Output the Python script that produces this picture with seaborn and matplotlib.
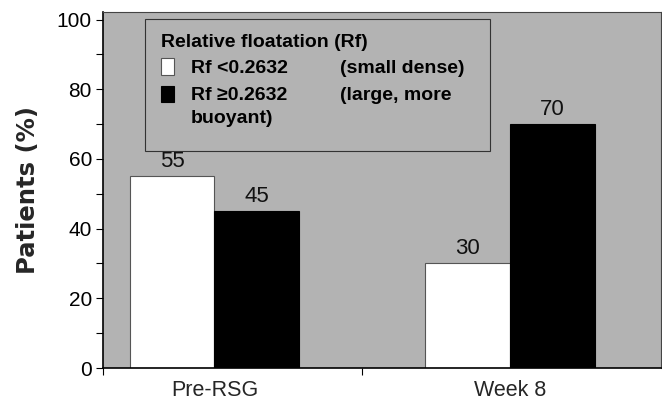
import matplotlib
matplotlib.use("Agg")
import matplotlib.pyplot as plt
from matplotlib.patches import Rectangle
import seaborn as sns
import pandas as pd

periods = ["Pre-RSG", "Week 8"]
groups = ["Rf <0.2632", "Rf \u22650.2632"]
small_dense = [55, 30]
large_buoyant = [45, 70]
y_ticks = [0, 20, 40, 60, 80, 100]

df = pd.DataFrame({
    "period": periods * 2,
    "group": [groups[0]] * 2 + [groups[1]] * 2,
    "pct": small_dense + large_buoyant,
})

sns.set_theme(style="white")
plt.rcParams["font.family"] = ["Liberation Sans", "DejaVu Sans"]

W, H = 662, 404
fig = plt.figure(figsize=(W / 100, H / 100), dpi=100)
ax = fig.add_axes([103 / W, 1 - 368 / H, (661 - 103) / W, (368 - 12) / H])
ax.set_facecolor("#b3b3b3")

sns.barplot(data=df, x="period", y="pct", hue="group", hue_order=groups,
            palette=["white", "black"], width=0.572, gap=0, legend=False,
            saturation=1, ax=ax)

edge_cols = ["#555555", "black"]
for cont, ec in zip(ax.containers, edge_cols):
    for p in cont:
        p.set_edgecolor(ec)
        p.set_linewidth(0.8)
    labels = ax.bar_label(cont, fmt="%d", padding=3, fontsize=16, color="#111111")
    for t in labels:
        t.set_zorder(6)

ax.set_xlim(-0.377, 1.511)
ax.set_ylim(0, 102.2)
ax.set_yticks(y_ticks)
ax.set_yticks([10, 30, 50, 70, 90], minor=True)
ax.tick_params(axis="y", which="both", direction="out", length=5, width=0.8,
               colors="black", labelsize=15, left=True, pad=3)
ax.set_xticks([0, 1])
ax.set_xticklabels(periods)
ax.set_xticks([-0.377, 0.5], minor=True)
ax.tick_params(axis="x", which="major", length=0, labelsize=15.5, pad=9)
ax.tick_params(axis="x", which="minor", direction="out", length=5, width=0.8,
               colors="black", bottom=True)
ax.set_xlabel("")
ax.set_ylabel("Patients (%)", fontsize=17.5, fontweight="bold",
              family="DejaVu Sans", labelpad=12)

for side in ["left", "bottom"]:
    ax.spines[side].set_color("black")
    ax.spines[side].set_linewidth(1.2)
for side in ["top", "right"]:
    ax.spines[side].set_color("#444444")
    ax.spines[side].set_linewidth(0.8)


def fx(px):
    return px / W


def fy(py):
    return 1 - py / H


# legend panel, drawn inside the axes beneath the value labels
tf = fig.transFigure
ax.add_patch(Rectangle((fx(145), fy(151)), fx(490) - fx(145), fy(19) - fy(151),
                       transform=tf, facecolor="#b3b3b3", edgecolor="#333333",
                       linewidth=0.8, zorder=4, clip_on=False))
ax.add_patch(Rectangle((fx(161), fy(75)), 13 / W, 17 / H, transform=tf,
                       facecolor="white", edgecolor="#555555", linewidth=0.8,
                       zorder=5, clip_on=False))
ax.add_patch(Rectangle((fx(160.5), fy(102)), 13.5 / W, 16 / H, transform=tf,
                       facecolor="black", edgecolor="black", linewidth=0.8,
                       zorder=5, clip_on=False))
lk = dict(fontsize=14, fontweight="bold", va="baseline", ha="left", zorder=7,
          color="black", transform=tf)
ax.text(fx(161), fy(47), "Relative floatation (Rf)", **lk)
ax.text(fx(191), fy(73), groups[0], **lk)
ax.text(fx(340), fy(73), "(small dense)", **lk)
ax.text(fx(191), fy(100), groups[1], family=["Liberation Sans", "DejaVu Sans"],
        **lk)
ax.text(fx(340), fy(100), "(large, more", **lk)
ax.text(fx(191), fy(123), "buoyant)", **lk)

fig.savefig("out.png", dpi=100, facecolor="white")
